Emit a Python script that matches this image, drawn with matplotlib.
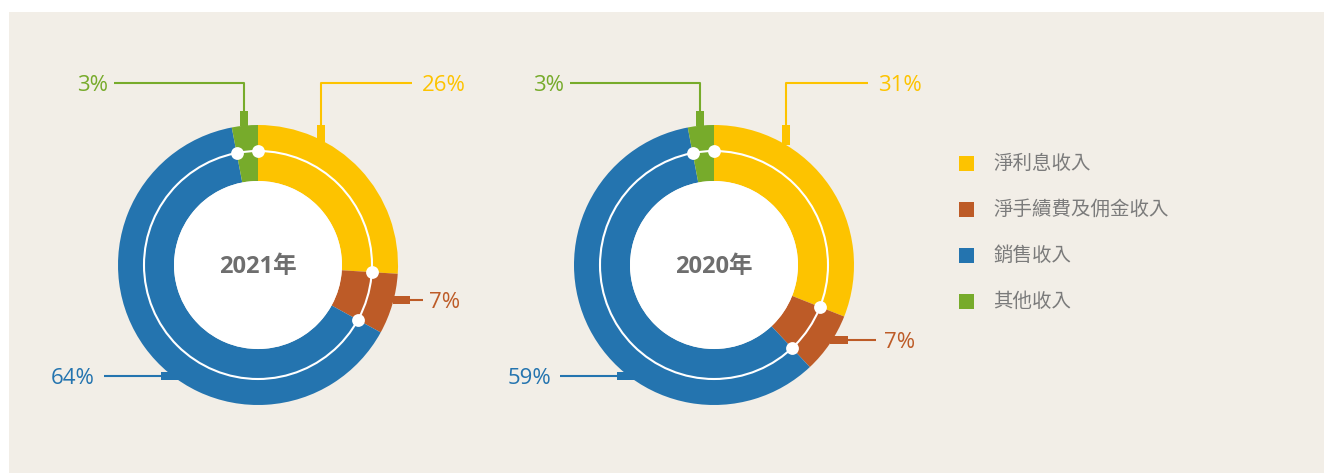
import matplotlib
matplotlib.use('Agg')
import matplotlib.pyplot as plt
import numpy as np
from matplotlib.patches import Circle, Rectangle

# data
categories = ['淨利息收入', '淨手續費及佣金收入', '銷售收入', '其他收入']
years = ['2021年', '2020年']
shares_2021 = [26, 7, 64, 3]
shares_2020 = [31, 7, 59, 3]
colors = ['#FDC300', '#BD5B27', '#2474AF', '#77AB2B']

W, H = 1324, 473
BG = '#F2EEE7'
TXT = '#7B7B7B'


def P(x, y):
    """pixel position (top-left origin) -> axes data coords"""
    return x, H - y


fig = plt.figure(figsize=(W / 100, H / 100), dpi=100)
ax = fig.add_axes([0, 0, 1, 1])

# panel
ax.add_patch(Rectangle(P(9, 473), W - 9, 473 - 12, facecolor=BG,
                       edgecolor='none', zorder=0))

# label anchors per chart: (tab rect x0, y0, x1, y1), leader polyline, text pos, ha
layouts = [
    dict(cx=258, cy=265, anchors=[
        ((317, 125, 325, 142), [(321, 125), (321, 83), (412, 83)], (422, 86), 'left'),
        ((393, 296, 410, 304), [(410, 300), (423, 300)], (429, 302), 'left'),
        ((161, 372, 180, 380), [(161, 376), (104, 376)], (95, 378), 'right'),
        ((240, 111, 248, 126), [(244, 111), (244, 83), (114, 83)], (108, 86), 'right'),
    ]),
    dict(cx=714, cy=265, anchors=[
        ((782, 125, 790, 145), [(786, 125), (786, 83), (868, 83)], (878, 86), 'left'),
        ((830, 336, 848, 344), [(848, 340), (876, 340)], (884, 343), 'left'),
        ((617, 372, 636, 380), [(617, 376), (560, 376)], (551, 378), 'right'),
        ((696, 111, 704, 126), [(700, 111), (700, 83), (570, 83)], (564, 86), 'right'),
    ]),
]

R_OUT, R_IN, R_MID = 140, 84, 114

for shares, year, lay in zip([shares_2021, shares_2020], years, layouts):
    c = P(lay['cx'], lay['cy'])
    ax.pie(shares, colors=colors, radius=R_OUT, center=c, startangle=90,
           counterclock=False, wedgeprops=dict(width=R_OUT - R_IN, linewidth=0),
           frame=True)
    ax.add_patch(Circle(c, R_IN, facecolor='white', edgecolor='none', zorder=3))
    ax.add_patch(Circle(c, R_MID, facecolor='none', edgecolor='white',
                        linewidth=1.5, zorder=3))
    # dots on segment boundaries
    cum = np.cumsum([0] + shares[:-1]) / np.sum(shares)
    ang = np.deg2rad(90 - cum * 360)
    ax.scatter(c[0] + R_MID * np.cos(ang), c[1] + R_MID * np.sin(ang),
               s=85, color='white', zorder=4, linewidths=0)
    ax.text(c[0], c[1] - 2, year, ha='center', va='center', fontsize=17,
            fontweight='bold', color='#6E6E6E',
            family=['Open Sans', 'Noto Sans CJK TC'], zorder=5)

    for v, col, (rect, pts, tpos, ha) in zip(shares, colors, lay['anchors']):
        x0, y0, x1, y1 = rect
        ax.add_patch(Rectangle(P(x0, y1), x1 - x0, y1 - y0, facecolor=col,
                               edgecolor='none', zorder=2))
        xs = [p[0] for p in pts]
        ys = [H - p[1] for p in pts]
        ax.plot(xs, ys, color=col, lw=1.5, zorder=2, solid_capstyle='butt')
        ax.text(*P(*tpos), f'{v}%', ha=ha, va='center', fontsize=16,
                color=col, family=['Open Sans', 'DejaVu Sans'])

# legend
for i, (cat, col) in enumerate(zip(categories, colors)):
    yc = 163.5 + i * 46
    ax.add_patch(Rectangle(P(959, yc + 7.5), 15, 15, facecolor=col,
                           edgecolor='none'))
    ax.text(*P(993, yc), cat, ha='left', va='center', fontsize=14,
            color=TXT, family=['Noto Sans CJK TC', 'DejaVu Sans'])

ax.set_xlim(0, W)
ax.set_ylim(0, H)
ax.set_aspect('equal')
ax.axis('off')

fig.savefig('out.png', dpi=100, facecolor='white')
